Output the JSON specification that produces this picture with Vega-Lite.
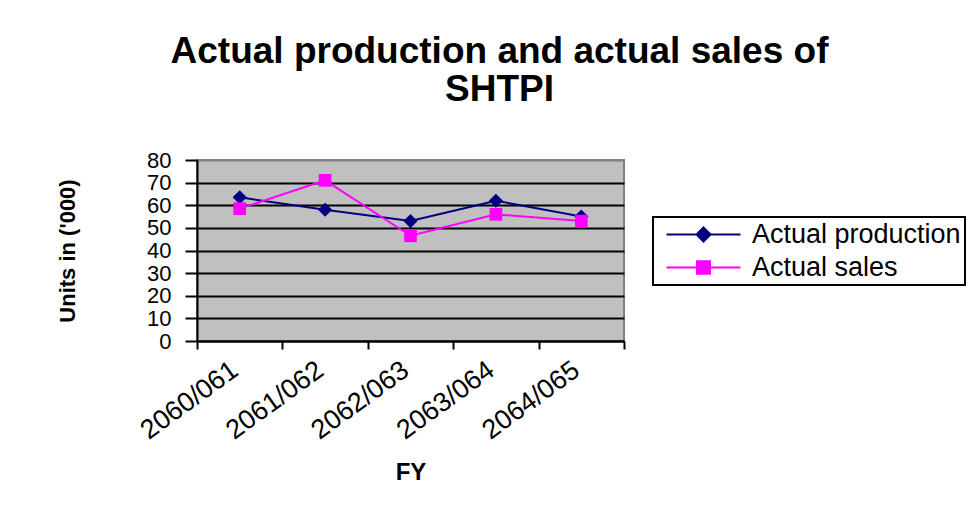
{
  "$schema": "https://vega.github.io/schema/vega-lite/v6.json",
  "width": 427,
  "height": 181,
  "autosize": {"type": "none"},
  "padding": {"left": 197, "top": 160, "right": 351, "bottom": 164},
  "background": "white",
  "config": {
    "font": "Liberation Sans",
    "view": {"fill": "#C0C0C0", "stroke": "#808080", "strokeWidth": 2}
  },
  "title": {
    "text": ["Actual production and actual sales of", "SHTPI"],
    "font": "Liberation Sans",
    "fontSize": 37,
    "fontWeight": "bold",
    "color": "black",
    "anchor": "middle",
    "frame": "group",
    "dx": 89,
    "lineHeight": 38,
    "offset": 40
  },
  "data": {
    "values": [
      {"FY": "2060/061", "series": "Actual production", "units": 63.5},
      {"FY": "2061/062", "series": "Actual production", "units": 58},
      {"FY": "2062/063", "series": "Actual production", "units": 53},
      {"FY": "2063/064", "series": "Actual production", "units": 62},
      {"FY": "2064/065", "series": "Actual production", "units": 55},
      {"FY": "2060/061", "series": "Actual sales", "units": 58.5},
      {"FY": "2061/062", "series": "Actual sales", "units": 71},
      {"FY": "2062/063", "series": "Actual sales", "units": 46.5},
      {"FY": "2063/064", "series": "Actual sales", "units": 56},
      {"FY": "2064/065", "series": "Actual sales", "units": 53}
    ]
  },
  "encoding": {
    "x": {
      "field": "FY",
      "type": "nominal",
      "sort": null,
      "bandPosition": 0.5,
      "scale": {"type": "band", "paddingInner": 0, "paddingOuter": 0},
      "axis": {
        "title": "FY",
        "titleFont": "Liberation Sans",
        "titleFontSize": 24,
        "titleFontWeight": "bold",
        "titleColor": "black",
        "titleBaseline": "middle",
        "titleY": 131,
        "labelFontSize": 27,
        "labelColor": "black",
        "labelAngle": -36,
        "labelAlign": "right",
        "labelBaseline": "middle",
        "labelPadding": 18,
        "labelOffset": -5,
        "labelOverlap": false,
        "tickBand": "extent",
        "tickSize": 8,
        "tickColor": "black",
        "tickWidth": 2,
        "domainColor": "black",
        "domainWidth": 2,
        "grid": false
      }
    },
    "y": {
      "field": "units",
      "type": "quantitative",
      "scale": {"domain": [0, 80]},
      "axis": {
        "title": "Units in ('000)",
        "titleFont": "Liberation Sans",
        "titleFontSize": 22,
        "titleFontWeight": "bold",
        "titleColor": "black",
        "titleX": -130,
        "titleY": 90.5,
        "titleAlign": "center",
        "titleBaseline": "middle",
        "values": [0, 10, 20, 30, 40, 50, 60, 70, 80],
        "labelFontSize": 22,
        "labelColor": "black",
        "labelPadding": 14,
        "labelFlush": false,
        "labelOverlap": false,
        "tickSize": 12,
        "tickColor": "black",
        "tickWidth": 2,
        "domainColor": "black",
        "domainWidth": 2,
        "grid": true,
        "gridColor": {"condition": {"test": "datum.value === 80", "value": "#808080"}, "value": "black"},
        "gridWidth": 2
      }
    },
    "color": {
      "field": "series",
      "type": "nominal",
      "scale": {"domain": ["Actual production", "Actual sales"], "range": ["#000080", "#FF00FF"]},
      "legend": {
        "orient": "none",
        "legendX": 456,
        "legendY": 57,
        "title": null,
        "labelFont": "Liberation Sans",
        "labelFontSize": 27,
        "labelColor": "black",
        "labelLimit": 0,
        "labelOffset": 68,
        "symbolSize": 400,
        "symbolType": "M-0.4,0L7,0",
        "symbolStrokeWidth": 2,
        "strokeColor": "black",
        "fillColor": "white",
        "padding": 4,
        "rowPadding": 5,
        "encode": {
          "legend": {"update": {"strokeWidth": {"value": 2}}},
          "symbols": {
            "update": {
              "shape": {"signal": "datum.value === 'Actual production' ? 'M-0.4,0L7,0M3.3,-0.7L4,0L3.3,0.7L2.6,0Z' : 'M-0.4,0L7,0M2.65,-0.62L3.95,-0.62L3.95,0.62L2.65,0.62Z'"},
              "fill": {"scale": "color", "field": "value"},
              "stroke": {"scale": "color", "field": "value"},
              "strokeWidth": {"value": 2},
              "opacity": {"value": 1}
            }
          }
        }
      }
    }
  },
  "layer": [
    {"mark": {"type": "line", "strokeWidth": 2}},
    {
      "transform": [{"filter": "datum.series === 'Actual production'"}],
      "mark": {"type": "point", "shape": "diamond", "size": 200, "filled": true, "opacity": 1}
    },
    {
      "transform": [{"filter": "datum.series === 'Actual sales'"}],
      "mark": {"type": "point", "shape": "square", "size": 160, "filled": true, "opacity": 1}
    }
  ]
}
